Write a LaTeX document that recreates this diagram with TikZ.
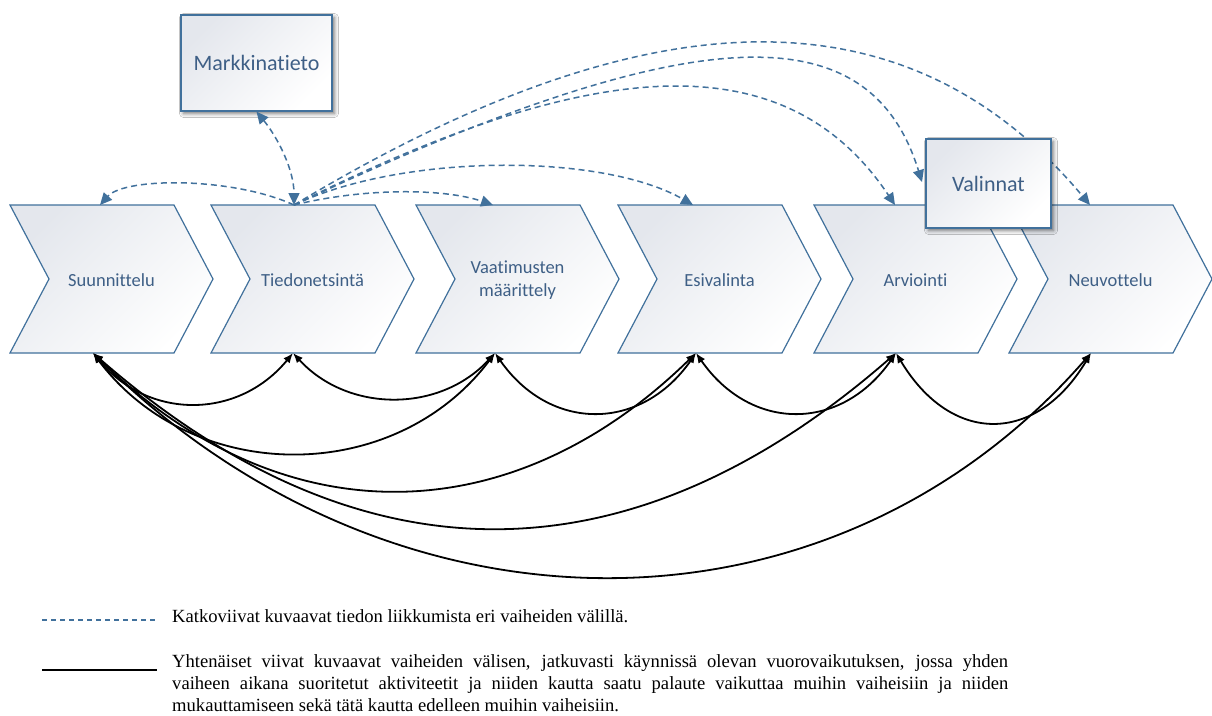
\documentclass[tikz,border=0pt]{standalone}
\usepackage{fontspec}
\setmainfont{Carlito}[Ligatures=NoCommon]
\newfontfamily\legfont{Liberation Serif}
\usetikzlibrary{arrows.meta,shadows.blur,calc}
\definecolor{bordblue}{HTML}{41719C}
\definecolor{txtblue}{HTML}{3E5F86}
\definecolor{shtop}{HTML}{E4E7ED}
\definecolor{dashblue}{HTML}{41719C}
\begin{document}
\begin{tikzpicture}[x=1pt,y=-1pt,
 chev/.style={draw=bordblue, line width=1.2pt, top color=shtop, bottom color=white, shading angle=45, line join=miter},
 chevtext/.style={font=\fontsize{18.5}{23}\selectfont, text=txtblue, align=center, inner sep=0pt},
 infobox/.style={draw=bordblue, line width=1.2pt, top color=shtop, bottom color=white, shading angle=45,
   blur shadow={shadow xshift=2.5pt, shadow yshift=-2.5pt, shadow blur radius=4pt, shadow opacity=55},
   font=\fontsize{22}{26}\selectfont, text=txtblue, inner sep=0pt},
 dasharr/.style={draw=dashblue, line width=1.5pt, dash pattern=on 6pt off 4pt, -{Triangle[length=12pt,width=11pt]}},
 dasharr2/.style={draw=dashblue, line width=1.5pt, dash pattern=on 6pt off 4pt, {Triangle[length=12pt,width=11pt]}-{Triangle[length=12pt,width=11pt]}},
 solarr/.style={draw=black, line width=1.8pt, {Latex[length=10pt,width=8pt]}-{Latex[length=10pt,width=8pt]}},
 legtext/.style={font=\legfont\fontsize{18.6}{22}\selectfont, inner sep=0pt},
]
\path[use as bounding box, fill=white] (0,0) rectangle (1212,715);

% chevrons
\foreach \x/\nm/\txt in {10/s/Suunnittelu, 211/t/Tiedonetsintä, 416/v/{Vaatimusten\\määrittely}, 618/e/Esivalinta, 814/a/Arviointi, 1009/n/Neuvottelu} {
  \path[chev] (\x,205) -- ++(164,0) -- ++(39,74) -- ++(-39,74) -- ++(-164,0) -- ++(39,-74) -- cycle;
  \node[chevtext] (\nm) at (\x+101.5,280) {\txt};
}

% attachment points
\coordinate (sT) at (100,205);
\coordinate (tT) at (294,205);
\coordinate (vT) at (493,205);
\coordinate (eT) at (693,205);
\coordinate (aT) at (895,205);
\coordinate (nT) at (1090,205);
\coordinate (sB) at (93,353);
\coordinate (tB) at (293,353);
\coordinate (vB) at (495,353);
\coordinate (eB) at (696,353);
\coordinate (aB) at (896,353);
\coordinate (nB) at (1091,353);

% dashed information flows
\draw[dasharr] (tT) .. controls (233,177) and (125,177) .. (sT);
\draw[dasharr] (tT) .. controls (363,188) and (443,188) .. (vT);
\draw[dasharr] (tT) .. controls (403,153) and (603,153) .. (eT);
\draw[dasharr] (tT) .. controls (607,48) and (790,48) .. (aT);
\coordinate (valT) at (922,182);
\draw[dasharr] (tT) .. controls (700,14) and (870,14) .. (valT);
\draw[dasharr] (tT) .. controls (653,-11) and (909,-11) .. (nT);

% boxes
\node[infobox, minimum width=151pt, minimum height=96pt] (mk) at (256.5,63) {Markkinatieto};
\node[infobox, minimum width=125pt, minimum height=89pt] (val) at (988.5,183.5) {Valinnat};
\draw[dasharr2] (mk.south) .. controls (278,138) and (294,170) .. (tT);

% solid interaction arcs
\draw[solarr] (sB) .. controls (148,420) and (238,420) .. (tB);
\draw[solarr] (tB) .. controls (348,413) and (440,413) .. (vB);
\draw[solarr] (vB) .. controls (550,432) and (641,432) .. (eB);
\draw[solarr] (eB) .. controls (751,432) and (841,432) .. (aB);
\draw[solarr] (aB) .. controls (951,445) and (1036,445) .. (nB);
\draw[solarr] (sB) .. controls (193,486) and (395,486) .. (vB);
\draw[solarr] (sB) .. controls (280,536) and (509,536) .. (eB);
\draw[solarr] (sB) .. controls (360,586) and (629,586) .. (aB);
\draw[solarr] (sB) .. controls (393,651) and (831,651) .. (nB);

% legend
\coordinate (l1a) at (42,620);
\coordinate (l1b) at (158,620);
\coordinate (l2a) at (42,670);
\coordinate (l2b) at (157,670);
\draw[draw=dashblue, line width=1.2pt, dash pattern=on 5pt off 4pt] (l1a) -- (l1b);
\draw[draw=black, line width=1.8pt] (l2a) -- (l2b);
\node[legtext, anchor=base west] (leg1) at (172,622) {Katkoviivat kuvaavat tiedon liikkumista eri vaiheiden välillä.};
\node[legtext, anchor=north west, text width=836pt, align=justify] (leg2) at (172,654)
 {Yhtenäiset viivat kuvaavat vaiheiden välisen, jatkuvasti käynnissä olevan vuorovaikutuksen, jossa yhden\linebreak
  vaiheen aikana suoritetut aktiviteetit ja niiden kautta saatu palaute vaikuttaa muihin vaiheisiin ja niiden\linebreak
  mukauttamiseen sekä tätä kautta edelleen muihin vaiheisiin.};
\end{tikzpicture}
\end{document}
